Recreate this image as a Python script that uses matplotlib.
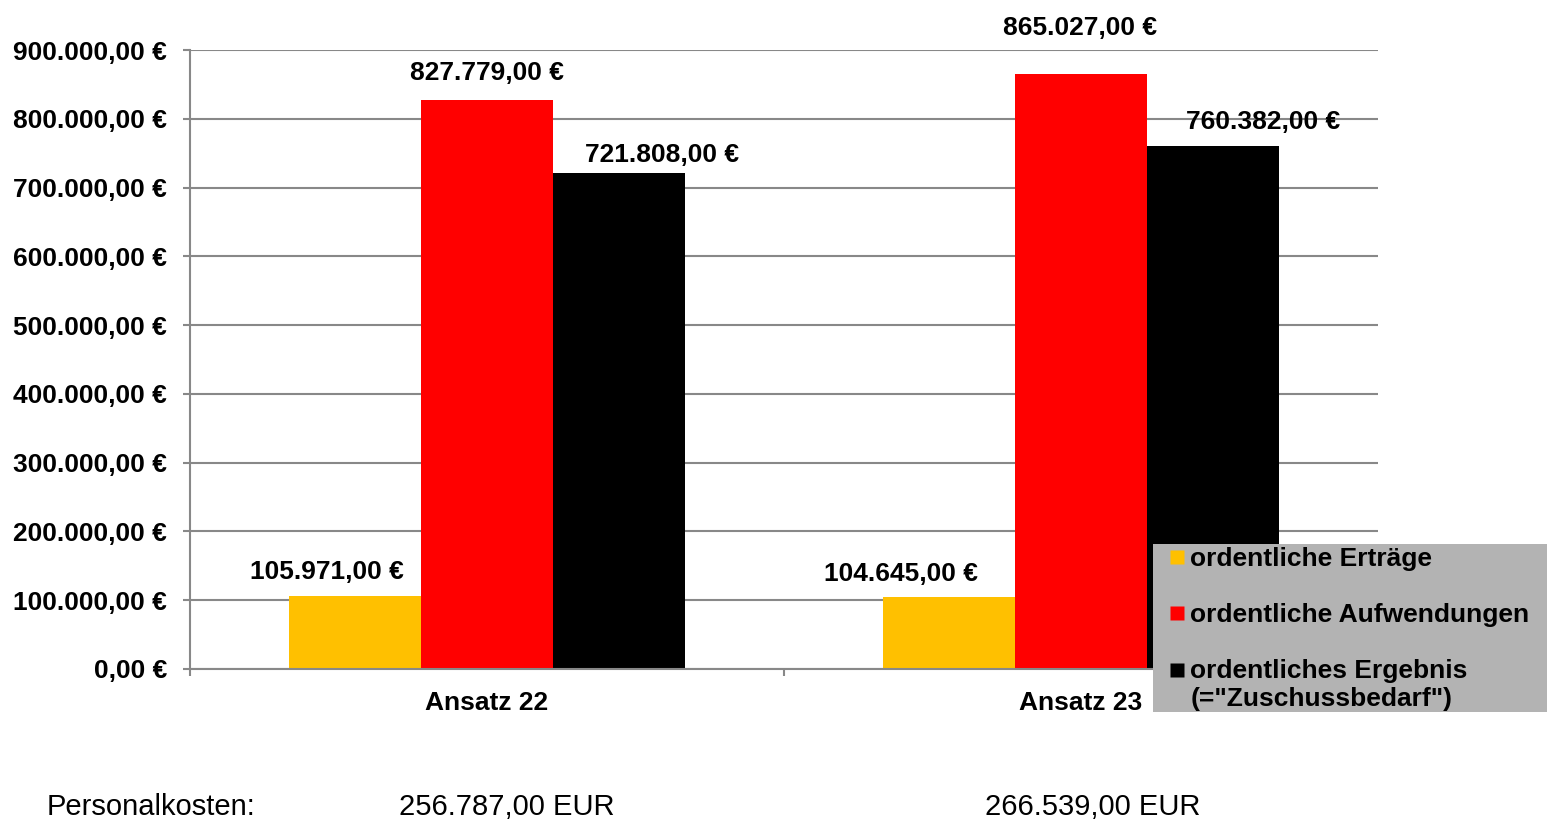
import matplotlib.pyplot as plt
from matplotlib.lines import Line2D
from matplotlib.patches import Rectangle
from matplotlib.legend_handler import HandlerLine2D
from matplotlib.ticker import FuncFormatter
import numpy as np

plt.rcParams['font.family'] = ['Liberation Sans', 'DejaVu Sans']

categories = ['Ansatz 22', 'Ansatz 23']
series_names = ['ordentliche Erträge', 'ordentliche Aufwendungen',
                'ordentliches Ergebnis\n(="Zuschussbedarf")']
ertraege = [105971, 104645]
aufwendungen = [827779, 865027]
ergebnis = [721808, 760382]
personalkosten = [256787, 266539]
colors = ['#FFC000', '#FF0000', '#000000']

# label offsets (points) for the value labels, per series and group
label_dx = [[-20, -35], [0, -1], [31, 36]]
label_dy = [[17.5, 16.5], [19, 33], [12.5, 17.5]]
pk_dx = [0.033, 0.019]


def de_format(v, unit='€'):
    s = f'{v:,.2f}'.replace(',', 'X').replace('.', ',').replace('X', '.')
    return f'{s} {unit}'


class FirstLineHandler(HandlerLine2D):
    # put the marker next to the first line of a two-line label
    def create_artists(self, legend, orig_handle, xdescent, ydescent,
                       width, height, fontsize, trans):
        arts = super().create_artists(legend, orig_handle, xdescent, ydescent,
                                      width, height, fontsize, trans)
        for a in arts:
            a.set_ydata(np.asarray(a.get_ydata()) + 0.6*fontsize)
        return arts


fig = plt.figure(figsize=(15.47, 8.19), dpi=100)
ax = fig.add_axes([190/1547, 150/819, 1188/1547, 619/819])

x = np.arange(len(categories))
w = 0.222
all_series = [ertraege, aufwendungen, ergebnis]
for i, vals in enumerate(all_series):
    bars = ax.bar(x + (i - 1)*w, vals, width=w, color=colors[i], zorder=2)
    for j, b in enumerate(bars):
        ax.annotate(de_format(vals[j]),
                    (b.get_x() + b.get_width()/2, b.get_height()),
                    xytext=(label_dx[i][j], label_dy[i][j]),
                    textcoords='offset points', ha='center', va='center',
                    fontsize=19, fontweight='bold', zorder=5,
                    annotation_clip=False)

ax.set_xlim(-0.5, 1.5)
ax.set_ylim(0, 900000)
ax.set_yticks(np.arange(0, 900001, 100000))
ax.yaxis.set_major_formatter(FuncFormatter(lambda v, p: de_format(v)))
ax.set_xticks(x)
ax.set_xticklabels(categories, fontsize=19, fontweight='bold')
ax.set_xticks([-0.5, 0.5, 1.5], minor=True)
ax.tick_params(axis='x', which='major', length=0, pad=16)
ax.tick_params(axis='x', which='minor', length=5, width=1.5, color='#888888')
ax.tick_params(axis='y', length=5, width=1.5, color='#888888', pad=11.5)
for lab in ax.get_yticklabels():
    lab.set_fontsize(19)
    lab.set_fontweight('bold')

ax.grid(axis='y', color='#888888', linewidth=1.5, zorder=0)
ax.set_axisbelow(True)
for s in ['top', 'right']:
    ax.spines[s].set_visible(False)
for s in ['left', 'bottom']:
    ax.spines[s].set_color('#888888')
    ax.spines[s].set_linewidth(1.5)

# legend box
fig.patches.append(Rectangle((1153/1547, 1 - 712/819), 394/1547, 168/819,
                             transform=fig.transFigure, facecolor='#B3B3B3',
                             edgecolor='none', zorder=3))
handles = [Line2D([], [], marker='s', linestyle='none', markersize=10.5,
                  markerfacecolor=c, markeredgecolor='none') for c in colors]
fig.legend(handles, series_names, loc='upper left',
           bbox_to_anchor=(1170/1547, 1 - 547/819), frameon=False,
           borderpad=0, borderaxespad=0, handlelength=0.5,
           handletextpad=0.27, labelspacing=1.22,
           handler_map={handles[2]: FirstLineHandler()},
           prop={'size': 19, 'weight': 'bold'})

fig.text(47/1547, 1 - 815/819, 'Personalkosten:', fontsize=21, va='baseline')
for j, v in enumerate(personalkosten):
    xd = ax.transData.transform((x[j] + pk_dx[j], 0))[0]
    fig.text(xd/1547, 1 - 815/819, de_format(v, 'EUR'), fontsize=21,
             ha='center', va='baseline')

fig.savefig('out.png', dpi=100)
